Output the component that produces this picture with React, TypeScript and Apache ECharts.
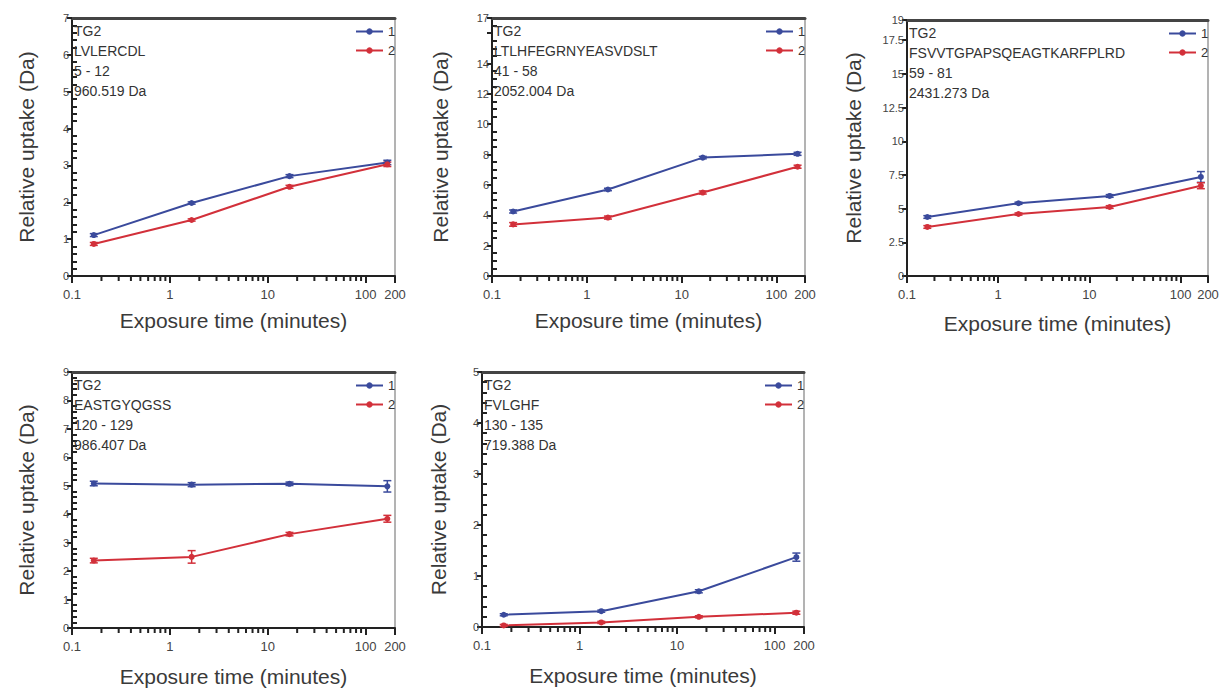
import React, { useEffect, useRef } from "react";
import * as echarts from "echarts";

// Exposure times (minutes)
const times = [0.167, 1.67, 16.7, 167];
const xMajorLabels = [0.1, 1, 10, 100, 200];
const xMinorTicks = [0.2, 0.3, 0.4, 0.5, 0.6, 0.7, 0.8, 0.9, 2, 3, 4, 5, 6, 7, 8, 9, 20, 30, 40, 50, 60, 70, 80, 90];

const seriesNames = ["1", "2"];

// Panel texts
const p1Text = ["TG2", "LVLERCDL", "5 - 12", "960.519 Da"];
const p2Text = ["TG2", "LTLHFEGRNYEASVDSLT", "41 - 58", "2052.004 Da"];
const p3Text = ["TG2", "FSVVTGPAPSQEAGTKARFPLRD", "59 - 81", "2431.273 Da"];
const p4Text = ["TG2", "EASTGYQGSS", "120 - 129", "986.407 Da"];
const p5Text = ["TG2", "FVLGHF", "130 - 135", "719.388 Da"];

// Values (Da)
const p1Blue = [1.11, 1.98, 2.71, 3.08];
const p1Red = [0.87, 1.52, 2.42, 3.03];
const p1BlueErr = [0.04, 0.03, 0.04, 0.06];
const p1RedErr = [0.04, 0.03, 0.04, 0.06];

const p2Blue = [4.25, 5.7, 7.8, 8.05];
const p2Red = [3.4, 3.85, 5.5, 7.2];
const p2BlueErr = [0.1, 0.08, 0.08, 0.1];
const p2RedErr = [0.12, 0.1, 0.1, 0.1];

const p3Blue = [4.38, 5.4, 5.94, 7.35];
const p3Red = [3.64, 4.6, 5.12, 6.7];
const p3BlueErr = [0.1, 0.08, 0.1, 0.4];
const p3RedErr = [0.1, 0.08, 0.1, 0.22];

const p4Blue = [5.08, 5.04, 5.07, 4.98];
const p4Red = [2.37, 2.5, 3.3, 3.84];
const p4BlueErr = [0.08, 0.07, 0.06, 0.2];
const p4RedErr = [0.08, 0.22, 0.06, 0.12];

const p5Blue = [0.24, 0.31, 0.7, 1.37];
const p5Red = [0.03, 0.09, 0.2, 0.28];
const p5BlueErr = [0.02, 0.02, 0.03, 0.08];
const p5RedErr = [0.02, 0.02, 0.02, 0.03];

// y axis settings
const yMaxes = [7, 17, 19, 9, 5];
const yIntervals = [1, 2, 2.5, 1, 1];
const yMinorSplits = [5, 4, 0, 5, 5];
const yHiddenLabels = [[], [16], [], [], []];

const BLUE = "#3a4a9c";
const RED = "#d2303a";

const panels = [
  { text: p1Text, blue: p1Blue, red: p1Red, be: p1BlueErr, re: p1RedErr },
  { text: p2Text, blue: p2Blue, red: p2Red, be: p2BlueErr, re: p2RedErr },
  { text: p3Text, blue: p3Blue, red: p3Red, be: p3BlueErr, re: p3RedErr },
  { text: p4Text, blue: p4Blue, red: p4Red, be: p4BlueErr, re: p4RedErr },
  { text: p5Text, blue: p5Blue, red: p5Red, be: p5BlueErr, re: p5RedErr },
];

// layout (pixels)
const grids = [
  { left: 72, top: 18, width: 323, height: 258, yGap: 35, xGap: 34 },
  { left: 492, top: 18, width: 313, height: 258, yGap: 41, xGap: 34 },
  { left: 907, top: 20, width: 301, height: 256, yGap: 43, xGap: 37 },
  { left: 72, top: 372, width: 323, height: 256, yGap: 35, xGap: 38 },
  { left: 482, top: 372, width: 322, height: 255, yGap: 33, xGap: 38 },
];

const FONT = "'Liberation Sans', Arial, sans-serif";

function errRender(color: string) {
  return (params: any, api: any) => {
    const x = api.value(0);
    const y = api.value(1);
    const e = api.value(2);
    const t = api.coord([x, y + e]);
    const b = api.coord([x, y - e]);
    const hw = 4;
    const style = { stroke: color, lineWidth: 1.5 };
    return {
      type: "group",
      children: [
        { type: "line", shape: { x1: t[0], y1: t[1], x2: b[0], y2: b[1] }, style },
        { type: "line", shape: { x1: t[0] - hw, y1: t[1], x2: t[0] + hw, y2: t[1] }, style },
        { type: "line", shape: { x1: b[0] - hw, y1: b[1], x2: b[0] + hw, y2: b[1] }, style },
      ],
    };
  };
}

function minorTickRender(params: any, api: any) {
  const p = api.coord([api.value(0), 0]);
  return {
    type: "line",
    shape: { x1: p[0], y1: p[1], x2: p[0], y2: p[1] + 5 },
    style: { stroke: "#222", lineWidth: 2 },
  };
}

function buildOption() {
  const xAxis: any[] = [];
  const yAxis: any[] = [];
  const series: any[] = [];
  const legend: any[] = [];
  const graphic: any[] = [];
  const grid: any[] = [];

  panels.forEach((p, i) => {
    const g = grids[i];
    grid.push({ left: g.left, top: g.top, width: g.width, height: g.height, containLabel: false });
    const xMain = xAxis.length;
    xAxis.push({
      type: "log",
      logBase: 10,
      gridIndex: i,
      min: 0.1,
      max: 200,
      position: "bottom",
      name: "Exposure time (minutes)",
      nameLocation: "middle",
      nameGap: g.xGap,
      nameTextStyle: { fontFamily: FONT, fontSize: 21, color: "#3a3a3a" },
      axisLine: { show: true, onZero: false, lineStyle: { color: "#222", width: 2 } },
      axisTick: { show: true, length: 7, lineStyle: { color: "#222", width: 2 } },
      axisLabel: {
        fontFamily: FONT,
        fontSize: 13,
        color: "#444",
        margin: 12,
        showMinLabel: true,
        showMaxLabel: true,
        formatter: (v: number) => {
          const r = Math.round(v * 1000) / 1000;
          return xMajorLabels.indexOf(r) >= 0 ? String(r) : "";
        },
      },
      splitLine: { show: false },
      minorTick: { show: false },
    });
    xAxis.push({
      type: "log",
      logBase: 10,
      gridIndex: i,
      min: 0.1,
      max: 200,
      position: "top",
      axisLine: { show: true, onZero: false, lineStyle: { color: "#444", width: 3 } },
      axisTick: { show: false },
      axisLabel: { show: false },
      splitLine: { show: false },
    });
    const yMain = yAxis.length;
    const hidden = yHiddenLabels[i];
    yAxis.push({
      type: "value",
      gridIndex: i,
      min: 0,
      max: yMaxes[i],
      interval: yIntervals[i],
      position: "left",
      name: "Relative uptake (Da)",
      nameLocation: "middle",
      nameGap: g.yGap,
      nameTextStyle: { fontFamily: FONT, fontSize: 21, color: "#3a3a3a" },
      axisLine: { show: true, onZero: false, lineStyle: { color: "#222", width: 2 } },
      axisTick: { show: true, length: 5, lineStyle: { color: "#222", width: 2 } },
      minorTick: {
        show: yMinorSplits[i] > 0,
        splitNumber: yMinorSplits[i] || 5,
        length: -5,
        lineStyle: { color: "#222", width: 2 },
      },
      axisLabel: {
        fontFamily: FONT,
        fontSize: 11,
        color: "#444",
        margin: 3,
        formatter: (v: number) => (hidden.indexOf(v) >= 0 ? "" : String(v)),
      },
      splitLine: { show: false },
    });
    yAxis.push({
      type: "value",
      gridIndex: i,
      min: 0,
      max: yMaxes[i],
      position: "right",
      axisLine: { show: true, onZero: false, lineStyle: { color: "#9a9a9a", width: 1.5 } },
      axisTick: { show: false },
      axisLabel: { show: false },
      splitLine: { show: false },
    });

    const mk = (vals: number[], errs: number[], name: string, color: string) => {
      series.push({
        type: "custom",
        name: name + " error",
        xAxisIndex: xMain,
        yAxisIndex: yMain,
        renderItem: errRender(color),
        encode: { x: 0, y: 1 },
        data: times.map((t, k) => [t, vals[k], errs[k]]),
        silent: true,
        z: 3,
      });
      series.push({
        type: "line",
        name: name,
        xAxisIndex: xMain,
        yAxisIndex: yMain,
        data: times.map((t, k) => [t, vals[k]]),
        symbol: "circle",
        symbolSize: 6,
        showSymbol: true,
        color,
        lineStyle: { color, width: 2 },
        itemStyle: { color },
        z: 4,
      });
    };
    mk(p.blue, p.be, seriesNames[0], BLUE);
    mk(p.red, p.re, seriesNames[1], RED);

    series.push({
      type: "custom",
      name: "minor ticks",
      xAxisIndex: xMain,
      yAxisIndex: yMain,
      renderItem: minorTickRender,
      encode: { x: 0, y: 1 },
      data: xMinorTicks.map((v) => [v, 0]),
      silent: true,
      clip: false,
      z: 5,
    });

    legend.push({
      data: seriesNames,
      orient: "vertical",
      left: g.left + g.width - 40,
      top: g.top + 7,
      itemWidth: 27,
      itemHeight: 8,
      itemGap: 6,
      selectedMode: false,
      textStyle: { fontFamily: FONT, fontSize: 13, color: "#333" },
      padding: 0,
    });

    const offs = [13, 33, 53, 73];
    p.text.forEach((s, k) => {
      graphic.push({
        type: "text",
        x: g.left + 2,
        y: g.top + offs[k],
        silent: true,
        style: {
          text: s,
          font: "14px " + FONT,
          fill: "#333",
          verticalAlign: "middle",
          align: "left",
        },
        z: 10,
      });
    });
  });

  return {
    animation: false,
    backgroundColor: "#ffffff",
    grid,
    xAxis,
    yAxis,
    series,
    legend,
    graphic,
  };
}

export default function App() {
  const ref = useRef<HTMLDivElement>(null);
  useEffect(() => {
    if (!ref.current) return;
    const chart = echarts.init(ref.current, undefined, { renderer: "svg" });
    chart.setOption(buildOption() as any);
    return () => chart.dispose();
  }, []);
  return (
    <div
      ref={ref}
      style={{ position: "absolute", left: 0, top: 0, width: 1223, height: 690, background: "#fff" }}
    />
  );
}
